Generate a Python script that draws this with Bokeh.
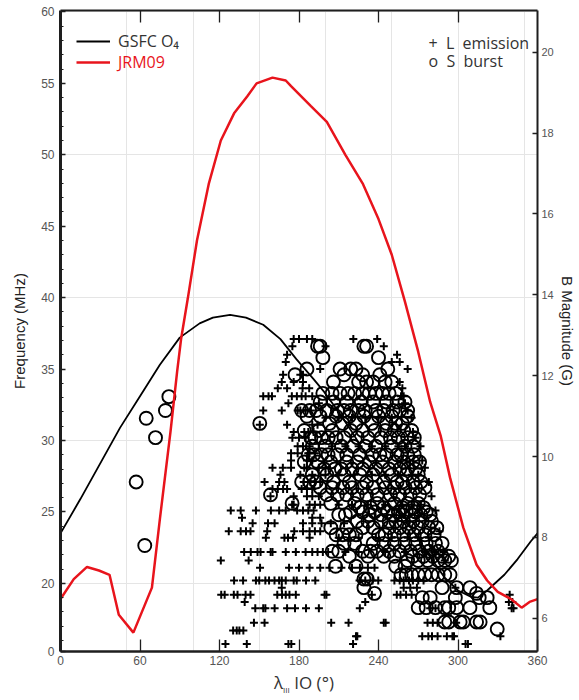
from bokeh.plotting import figure
from bokeh.layouts import column
from bokeh.models import (Range1d, LinearAxis, FixedTicker, Label, Legend, LegendItem,
                          CustomJSTickFormatter, Div)
from bokeh.core.properties import value
from bokeh.embed import file_html
from bokeh.resources import INLINE

# ---------------- data ----------------
x_ticks = [0, 60, 120, 180, 240, 300, 360]
freq_ticks = [20, 25, 30, 35, 40, 45, 50, 55, 60]
freq_bottom = 15.23          # axis break, labelled "0"
b_ticks = [6, 8, 10, 12, 14, 16, 18, 20]

# GSFC O4 model (frequency, MHz) vs lambda_III of Io
gsfc_deg = [0, 15, 30, 45, 60, 75, 90, 105, 115, 128, 140, 153, 166, 178, 191, 199,
            210, 220, 230, 240, 250, 260, 270, 280, 290, 300, 310, 315, 322, 335, 345, 355, 360]
gsfc_mhz = [23.5, 25.9, 28.4, 30.9, 33.1, 35.3, 37.2, 38.2, 38.6, 38.8, 38.6, 38.1, 37.1, 35.7,
            34.3, 33.4, 32.0, 30.6, 29.1, 27.6, 26.1, 24.6, 23.1, 21.7, 20.4, 19.5, 19.05, 19.0,
            19.5, 20.6, 21.7, 22.95, 23.5]

# JRM09 model
jrm_deg = [0, 10, 20, 29, 37, 44, 55, 69, 75, 83, 88, 91, 96, 103, 112, 121, 131, 141, 148,
           160, 170, 174, 189, 201, 215, 228, 240, 250, 260, 270, 279, 287, 294, 304, 314,
           322, 330, 340, 348, 354, 360]
jrm_mhz = [18.9, 20.3, 21.15, 20.9, 20.6, 17.8, 16.55, 19.7, 24.5, 30.6, 34.8, 37.1, 39.9,
           44.0, 48.0, 51.0, 52.9, 54.1, 55.0, 55.4, 55.2, 54.8, 53.4, 52.3, 50.0, 48.0, 45.5,
           43.0, 39.7, 36.2, 32.7, 30.3, 27.4, 23.9, 21.3, 20.2, 19.4, 18.9, 18.3, 18.7, 18.9]

# S bursts: (frequency MHz, [lambda_III deg ...])
S_rows = [
    (36.6, [194, 196, 229, 231]),
    (35.8, [198, 240]),
    (35.0, [186, 211, 219, 223, 247]),
    (34.6, [177, 214, 228, 241]),
    (34.1, [206, 225, 231, 236, 245, 250]),
    (33.3, [198, 205, 211, 217, 222, 228, 233, 238, 243, 248, 253]),
    (33.07, [81.8]),
    (32.7, [196, 206, 216, 227, 236, 246, 254, 260]),
    (32.1, [79.2, 182, 188, 193, 201, 209, 214, 219, 225, 230, 238, 244, 251, 256, 262]),
    (31.7, [186, 196, 208, 218, 229, 240, 250, 262]),
    (31.56, [64.7]),
    (31.2, [150.4, 203, 213, 223, 235, 246, 253, 258]),
    (30.7, [184, 195, 205, 219, 228, 237, 245, 252, 259, 265]),
    (30.2, [71.7, 189, 192, 197, 202, 208, 214, 224, 232, 242, 249, 255, 262, 267]),
    (29.6, [190, 200, 212, 221, 230, 238, 250, 260, 266]),
    (29.0, [187, 191, 197, 202, 209, 216, 226, 235, 241, 246, 254, 257, 262, 267]),
    (28.5, [184, 194, 204, 216, 224, 233, 243, 252, 259, 266, 271]),
    (28.0, [199, 207, 212, 220, 228, 238, 248, 256, 262, 268]),
    (27.6, [190, 201, 214, 226, 236, 250, 261, 270]),
    (27.1, [57.1, 182, 188, 193, 206, 218, 231, 244, 254, 258, 266, 272]),
    (26.7, [196, 205, 213, 220, 228, 236, 245, 252, 260, 268, 275]),
    (26.2, [158.5, 201, 209, 216, 224, 231, 239, 249, 256, 264, 271]),
    (25.6, [174.8, 204, 222, 239, 252, 262, 270]),
    (25.3, [226, 234, 244, 258, 266, 274]),
    (25.0, [219, 228, 237, 247, 255, 261, 268, 276]),
    (24.8, [210, 215, 233, 242, 251, 258, 265, 272, 279]),
    (24.35, [224, 232, 242, 248, 253, 259, 266, 273, 280]),
    (23.9, [204, 216, 228, 236, 248, 256, 263, 270, 278, 284]),
    (23.4, [208, 213, 218, 223, 240, 245, 252, 259, 267, 275, 282]),
    (22.8, [214, 222, 236, 244, 252, 260, 268, 276, 283, 288]),
    (22.65, [63.6]),
    (22.25, [205, 210, 228, 234, 239, 248, 256, 264, 271, 278, 285]),
    (21.9, [218, 232, 244, 252, 266, 274, 281, 288, 293]),
    (21.6, [262, 270, 277, 285, 290, 295]),
    (21.2, [207.6, 223, 253, 260]),
    (20.6, [257, 261, 265, 270, 275, 280, 285, 290, 294]),
    (20.3, [229, 231.5]),
    (19.7, [229, 288, 299, 309]),
    (19.3, [237, 314]),
    (19.0, [273, 279, 298, 316, 322]),
    (18.3, [270, 276, 283, 290, 293, 299, 309, 324]),
    (17.3, [290, 293, 301.6, 304, 314, 316.7]),
    (16.8, [329.6]),
]

# L emission: (frequency MHz, [lambda_III deg ...])
L_rows = [
    (37.1, [176, 180, 186, 190, 221, 239]),
    (36.6, [175, 200, 244]),
    (36.0, [171, 254]),
    (35.5, [170, 250, 256]),
    (35.0, [196, 262]),
    (34.6, [168, 181, 183]),
    (34.1, [167, 176, 183, 256]),
    (33.65, [164, 171, 182.7, 187.7, 258]),
    (33.1, [153, 157, 159.6, 174.6, 178.4, 182, 185, 190, 257, 259]),
    (32.6, [172, 195, 260]),
    (32.1, [153, 167, 179, 181, 185, 189, 262]),
    (31.6, [200, 210, 220, 230, 240, 250, 265]),
    (31.1, [150.4, 171, 190, 194]),
    (30.6, [176, 184, 187, 191, 266]),
    (30.2, [175, 180, 185, 268]),
    (29.6, [179, 183, 188, 205, 215, 225, 235, 245, 255, 260, 271.7]),
    (29.1, [174, 179, 187, 188, 192]),
    (28.6, [174, 186, 190, 273]),
    (28.1, [160, 167.8, 174, 184, 186, 195, 200, 275]),
    (27.6, [166, 181, 190, 200, 210, 222, 235, 245, 255, 265, 270]),
    (27.1, [154, 165, 169, 183.6, 188.7, 192, 196, 278]),
    (26.6, [160, 164, 168, 171, 182, 186, 190]),
    (26.1, [158.5, 176, 186, 190, 195, 280]),
    (25.5, [174.8, 176, 188, 192, 196, 210, 220, 232, 245, 258, 265, 272]),
    (25.1, [128.5, 136, 147.5, 158.8, 165, 170, 178.6, 183, 187, 191, 283]),
    (24.6, [137, 190, 196]),
    (24.2, [145, 156.6, 161.6, 183, 190, 197, 204, 214]),
    (23.65, [127, 136, 140, 143.4, 156, 176.4, 183, 188, 192, 196, 286]),
    (23.2, [155, 169, 171.7, 175.5, 188, 210, 225, 238, 250, 262, 270, 278]),
    (22.2, [138.6, 143.6, 148.7, 151, 158.6, 160, 170, 177.6, 185, 190, 194, 198, 202,
            215, 225, 245, 260, 275, 282, 289]),
    (21.6, [121, 142, 290]),
    (21.1, [150.6, 172.5, 180, 188, 196, 203, 212, 220, 226, 232, 237]),
    (20.2, [131, 137.8, 147.5, 150, 154.6, 157.4, 161.5, 165, 167, 170, 176, 178.3, 185.3,
            192.3, 225.7, 230, 235.5, 239.8, 252, 256, 259, 263, 266, 270, 274]),
    (19.7, [167, 259, 264, 269, 298]),
    (19.2, [121.3, 123.9, 130.8, 133.6, 139.7, 143.4, 163.6, 167.2, 170, 172.8, 177.6,
            199.3, 200.7, 235, 253.8, 256.6, 260.8, 265, 339]),
    (18.7, [139, 230, 338.4, 341]),
    (18.25, [147, 153, 154.6, 161.6, 171, 177, 185.3, 195, 225.9, 279, 283, 340.5, 341.9]),
    (17.25, [146, 154, 204.3, 217.4, 244, 245.4, 277, 281, 284.6, 298.6]),
    (16.7, [130.3, 133, 135, 138]),
    (16.3, [223, 224, 273, 277.6, 280.4, 284.6, 291.6, 295.8, 297, 332]),
    (15.75, [124.5, 140.6, 172, 174.2, 220.8, 305.7, 307.5]),
]

s_deg = [d for f, ds in S_rows for d in ds]
s_mhz = [f for f, ds in S_rows for d in ds]
l_deg = [d for f, ds in L_rows for d in ds]
l_mhz = [f for f, ds in L_rows for d in ds]

# ---------------- figure ----------------
AX = "#1e1e1e"
TICK_TXT = "#555555"
FONT = "Liberation Sans"

p = figure(width=579, height=670, output_backend="svg", toolbar_location=None,
           x_range=Range1d(0, 360), y_range=Range1d(freq_bottom, 60.1),
           x_axis_location=None, y_axis_location=None,
           min_border_left=60, min_border_right=42, min_border_top=10, min_border_bottom=19)
p.extra_y_ranges = {"b": Range1d(5.18, 21.03)}
p.outline_line_color = None
p.background_fill_color = "white"
p.border_fill_color = "white"

# bottom axis
xb = LinearAxis(ticker=FixedTicker(ticks=x_ticks, minor_ticks=[]),
                major_tick_in=12, major_tick_out=0, major_tick_line_width=1.3,
                major_tick_line_color=AX, minor_tick_line_color=None,
                axis_line_width=2.5, axis_line_color=AX,
                major_label_text_font=FONT, major_label_text_font_size="12px",
                major_label_text_color=TICK_TXT, major_label_standoff=4)
p.add_layout(xb, "below")

# top axis: ticks only
xt = LinearAxis(ticker=FixedTicker(ticks=x_ticks[1:-1], minor_ticks=[]),
                formatter=CustomJSTickFormatter(code="return ''"),
                major_tick_in=12, major_tick_out=0, major_tick_line_width=1.3,
                major_tick_line_color=AX, minor_tick_line_color=None,
                axis_line_width=2, axis_line_color=AX,
                major_label_text_font_size="0px", major_label_standoff=0)
p.add_layout(xt, "above")

# left axis (frequency)
yl = LinearAxis(ticker=FixedTicker(ticks=[freq_bottom] + freq_ticks,
                                   minor_ticks=list(range(16, 60))),
                major_label_overrides={freq_bottom: "0"},
                major_tick_in=5, major_tick_out=0, major_tick_line_width=1.3,
                minor_tick_in=3, minor_tick_out=0, minor_tick_line_width=1,
                major_tick_line_color=AX, minor_tick_line_color=AX,
                axis_line_width=3, axis_line_color=AX,
                major_label_text_font=FONT, major_label_text_font_size="12px",
                major_label_text_color=TICK_TXT, major_label_standoff=6,
                axis_label="Frequency (MHz)", axis_label_text_font=FONT,
                axis_label_text_font_size="15px", axis_label_text_font_style="normal",
                axis_label_text_color="#222222", axis_label_standoff=10)
p.add_layout(yl, "left")

# right axis (B magnitude)
yr = LinearAxis(y_range_name="b", ticker=FixedTicker(ticks=b_ticks, minor_ticks=[]),
                major_tick_in=5, major_tick_out=0, major_tick_line_width=1.3,
                major_tick_line_color=AX, minor_tick_line_color=None,
                axis_line_width=2, axis_line_color=AX,
                major_label_text_font=FONT, major_label_text_font_size="11px",
                major_label_text_color=TICK_TXT, major_label_standoff=4,
                axis_label="B Magnitude (G)", axis_label_text_font=FONT,
                axis_label_text_font_size="15px", axis_label_text_font_style="normal",
                axis_label_text_color="#222222", axis_label_standoff=2)
p.add_layout(yr, "right")

# data
r_l = p.scatter(l_deg, l_mhz, marker="cross", size=8, line_width=2, line_color="black")
r_s = p.scatter(s_deg, s_mhz, marker="circle", size=13, line_width=1.9,
                line_color="black", fill_color=None)
r_gsfc = p.line(gsfc_deg, gsfc_mhz, line_color="black", line_width=1.8)
r_jrm = p.line(jrm_deg, jrm_mhz, line_color="#e8141c", line_width=2.5)

# legends (model curves)
common = dict(border_line_color=None, background_fill_alpha=0, padding=0, margin=0,
              spacing=0, glyph_width=34, glyph_height=20, label_height=20,
              label_standoff=8, label_text_font="Open Sans", label_text_font_size="16px")
leg1 = Legend(items=[LegendItem(label=value("GSFC O\u2084"), renderers=[r_gsfc])],
              location=(16, 599), label_text_color="#333333", **common)
leg2 = Legend(items=[LegendItem(label=value("JRM09"), renderers=[r_jrm])],
              location=(16, 578), label_text_color="#e8141c", **common)
p.add_layout(leg1)
p.add_layout(leg2)

# legend (observations)
NB = "\u00a0"
for txt, yy in [("+" + NB * 2 + "L" + NB * 2 + "emission", 57.86),
                ("o" + NB * 2 + "S" + NB * 2 + "burst", 56.6)]:
    p.add_layout(Label(x=277.7, y=yy, text=txt, text_font="Open Sans",
                       text_font_size="16px", text_color="#333333",
                       text_baseline="middle", text_align="left"))

# x axis title: lambda_III IO (deg), as HTML text below the plot
xtitle = Div(text="\u03bb<sub style='font-size:8px'>III</sub>&nbsp;IO (\u00b0)",
             width=579, height=30, margin=(0, 0, 0, 0),
             styles={"font-family": "Open Sans", "font-size": "17px", "color": "#333333",
                     "padding-left": "274px", "line-height": "26px",
                     "box-sizing": "border-box"})

layout = column(p, xtitle, spacing=0)
open("out.html", "w").write(file_html(layout, INLINE))
